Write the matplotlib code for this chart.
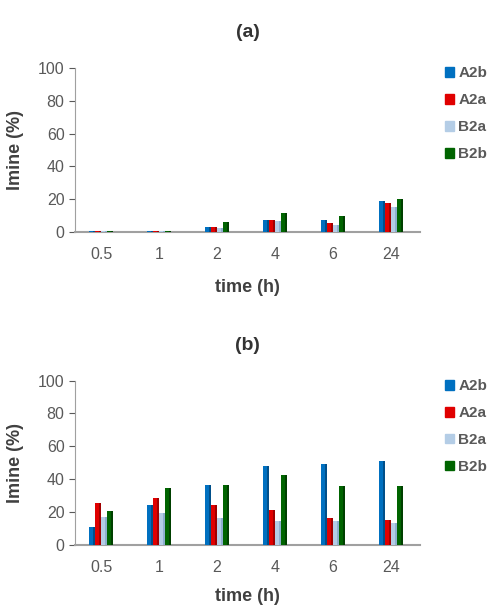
import matplotlib
matplotlib.use("Agg")
import matplotlib.pyplot as plt
import numpy as np

plt.rcParams['font.family'] = ['Liberation Sans', 'DejaVu Sans']

times = ['0.5', '1', '2', '4', '6', '24']
series = ['A2b', 'A2a', 'B2a', 'B2b']
colors = ['#0070C0', '#E00000', '#B4CDE6', '#006400']
side_colors = ['#004F8A', '#A00000', '#8FAFCF', '#004000']

# (a)
a_A2b = [0.5, 0.5, 3.3, 7.4, 7.4, 19.0]
a_A2a = [0.5, 0.5, 3.3, 7.4, 5.3, 18.0]
a_B2a = [0.5, 0.5, 2.7, 7.0, 4.2, 15.0]
a_B2b = [0.5, 0.5, 6.3, 11.6, 9.6, 20.0]

# (b)
b_A2b = [11.0, 24.4, 36.6, 47.8, 48.9, 50.9]
b_A2a = [25.5, 28.5, 24.4, 21.4, 16.3, 15.3]
b_B2a = [17.0, 19.4, 16.3, 14.3, 14.3, 13.2]
b_B2b = [20.4, 34.6, 36.6, 42.8, 35.6, 35.6]

grey = '#595959'
fig = plt.figure(figsize=(4.93, 6.06), dpi=100)


def panel(rect, title, data, xpad):
    ax = fig.add_axes(rect)
    x = np.arange(len(times))
    w = 0.1
    for i, vals in enumerate(data):
        pos = x + (i - 1.5) * w
        ax.bar(pos, vals, width=w, color=colors[i], edgecolor='none', zorder=3)
        # darker right side for a slight 3D look
        ax.bar(pos + w * 0.35, vals, width=w * 0.3, color=side_colors[i],
               edgecolor='none', zorder=4)
    ax.set_xlim(-0.45, 5.5)
    ax.set_ylim(0, 100)
    ax.set_yticks([0, 20, 40, 60, 80, 100])
    ax.set_xticks(x)
    ax.set_xticklabels(times)
    ax.tick_params(axis='both', colors=grey, labelsize=11.5, labelcolor=grey)
    ax.tick_params(axis='x', length=0, pad=11)
    ax.tick_params(axis='y', length=4)
    for s in ['top', 'right']:
        ax.spines[s].set_visible(False)
    ax.spines['left'].set_color('#A0A0A0')
    ax.spines['bottom'].set_color('#A0A0A0')
    ax.spines['bottom'].set_linewidth(1.5)
    ax.set_title(title, fontsize=14, fontweight='bold', color='#333333', pad=22)
    ax.set_xlabel('time (h)', fontsize=13, fontweight='bold', color='#404040', labelpad=xpad)
    ax.set_ylabel('Imine (%)', fontsize=13, fontweight='bold', color='#404040', labelpad=10)
    handles = [plt.Rectangle((0, 0), 1, 1, color=c) for c in colors]
    leg = ax.legend(handles, series, loc='upper left', bbox_to_anchor=(1.045, 1.065),
                    frameon=False, handlelength=0.6, handleheight=0.6,
                    handletextpad=0.3, labelspacing=0.85, borderaxespad=0.2,
                    prop={'weight': 'bold', 'size': 11})
    for t in leg.get_texts():
        t.set_color(grey)
    return ax


panel([0.152, 0.617, 0.70, 0.271], '(a)', [a_A2b, a_A2a, a_B2a, a_B2b], 12)
panel([0.152, 0.101, 0.70, 0.271], '(b)', [b_A2b, b_A2a, b_B2a, b_B2b], 9)

fig.savefig('out.png', dpi=100)
